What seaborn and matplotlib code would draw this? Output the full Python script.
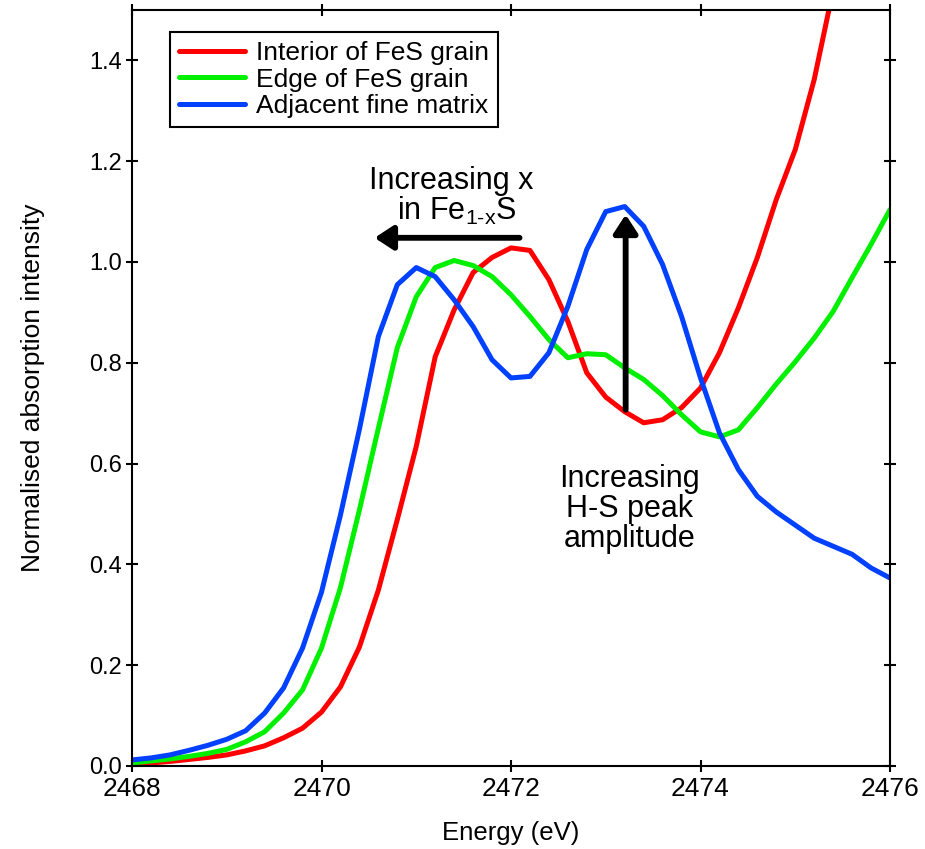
import numpy as np
import pandas as pd
import matplotlib
matplotlib.use("Agg")
import matplotlib.pyplot as plt
import seaborn as sns

# S K-edge XANES spectra, sampled every 0.2 eV
energy = np.round(np.arange(2468.0, 2476.0001, 0.2), 1)

interior = [0.003, 0.006, 0.009, 0.013, 0.017, 0.022, 0.030, 0.040, 0.056, 0.075,
            0.107, 0.157, 0.236, 0.349, 0.489, 0.634, 0.812, 0.905, 0.979, 1.009,
            1.028, 1.023, 0.965, 0.882, 0.780, 0.732, 0.703, 0.681, 0.687, 0.711,
            0.750, 0.820, 0.909, 1.009, 1.124, 1.223, 1.362, 1.540]

edge = [0.006, 0.010, 0.014, 0.019, 0.025, 0.033, 0.048, 0.068, 0.105, 0.151,
        0.234, 0.354, 0.508, 0.670, 0.830, 0.931, 0.989, 1.003, 0.993, 0.971,
        0.935, 0.892, 0.846, 0.810, 0.818, 0.816, 0.790, 0.767, 0.735, 0.697,
        0.663, 0.653, 0.667, 0.711, 0.758, 0.802, 0.849, 0.902, 0.969, 1.035,
        1.104]

matrix = [0.012, 0.016, 0.022, 0.031, 0.041, 0.053, 0.070, 0.105, 0.155, 0.234,
          0.345, 0.498, 0.668, 0.852, 0.955, 0.989, 0.971, 0.925, 0.872, 0.806,
          0.770, 0.773, 0.820, 0.912, 1.025, 1.100, 1.110, 1.071, 0.995, 0.892,
          0.770, 0.661, 0.588, 0.535, 0.504, 0.478, 0.452, 0.436, 0.420, 0.393,
          0.373]

series_names = ["Interior of FeS grain", "Edge of FeS grain", "Adjacent fine matrix"]
series_values = [interior, edge, matrix]
series_colors = ["#ff0000", "#00f000", "#0040ff"]

xticks = [2468, 2470, 2472, 2474, 2476]
yticks = [0.0, 0.2, 0.4, 0.6, 0.8, 1.0, 1.2, 1.4]

frames = []
for name, vals in zip(series_names, series_values):
    frames.append(pd.DataFrame({"Energy": energy[:len(vals)], "Intensity": vals, "Sample": name}))
df = pd.concat(frames, ignore_index=True)

sns.set_style("ticks")
plt.rcParams["font.family"] = ["Liberation Sans", "DejaVu Sans"]
plt.rcParams["mathtext.fontset"] = "custom"
plt.rcParams["mathtext.rm"] = "Liberation Sans"
plt.rcParams["mathtext.it"] = "Liberation Sans"
plt.rcParams["text.color"] = "black"
plt.rcParams["axes.labelcolor"] = "black"
plt.rcParams["xtick.color"] = "black"
plt.rcParams["ytick.color"] = "black"

fig = plt.figure(figsize=(9.25, 8.49), dpi=100)
ax = fig.add_axes([132 / 925, 83 / 849, 758 / 925, 756 / 849])

sns.lineplot(data=df, x="Energy", y="Intensity", hue="Sample",
             hue_order=series_names, palette=series_colors,
             linewidth=3.6, ax=ax, legend=True)

ax.set_xlim(2468, 2476)
ax.set_ylim(0, 1.5)
ax.set_xticks(xticks)
ax.set_xticklabels([str(t) for t in xticks], fontsize=19)
ax.set_yticks(yticks)
ax.set_yticklabels([f"{t:.1f}" for t in yticks], fontsize=17)
ax.set_xlabel("Energy (eV)", fontsize=18.5, labelpad=14, color="black")
ax.set_ylabel("Normalised absorption intensity", fontsize=19, labelpad=32, color="black")

for sp in ax.spines.values():
    sp.set_linewidth(1.5)
    sp.set_color("black")
    sp.set_visible(True)
ax.tick_params(which="major", direction="inout", length=8, width=1.5,
               top=True, right=True, colors="black")
ax.tick_params(axis="y", pad=3)
ax.tick_params(axis="x", pad=4)

handles, labels = ax.get_legend_handles_labels()
leg = ax.legend(handles, labels, loc="upper left", bbox_to_anchor=(0.05, 0.971),
                fontsize=19, frameon=True, fancybox=False, framealpha=1,
                edgecolor="black", handlelength=2.5, handletextpad=0.42,
                labelspacing=0.09, borderpad=0.35, borderaxespad=0)
leg.get_frame().set_linewidth(1.5)
for line in leg.get_lines():
    line.set_linewidth(3.6)
for t in leg.get_texts():
    t.set_color("black")

# composition shift annotation
ax.text(2471.37, 1.145, "Increasing x", fontsize=22, ha="center", va="baseline", color="black")
ax.text(2471.43, 1.084, r"in Fe$_{\mathrm{1\text{-}x}}$S", fontsize=22, ha="center",
        va="baseline", color="black")
ax.annotate("", xy=(2470.56, 1.048), xytext=(2472.09, 1.048),
            arrowprops=dict(arrowstyle="-|>,head_length=0.55,head_width=0.36",
                            mutation_scale=20, lw=4.2, color="black",
                            shrinkA=0, shrinkB=0))

# H-S peak annotation
ax.annotate("", xy=(2473.21, 1.094), xytext=(2473.21, 0.707),
            arrowprops=dict(arrowstyle="-|>,head_length=0.55,head_width=0.36",
                            mutation_scale=20, lw=4.2, color="black",
                            shrinkA=0, shrinkB=0))
ax.text(2473.25, 0.600, "Increasing\nH-S peak\namplitude", fontsize=22,
        ha="center", va="top", multialignment="center", linespacing=1.0, color="black")

fig.savefig("out.png", dpi=100)
